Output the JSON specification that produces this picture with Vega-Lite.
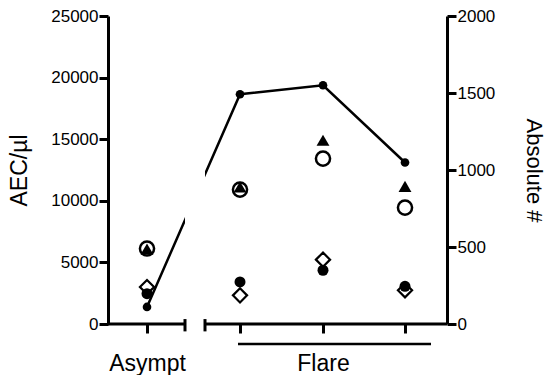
{
  "$schema": "https://vega.github.io/schema/vega-lite/v6.json",
  "width": 339,
  "height": 308,
  "autosize": "none",
  "padding": {"left": 108, "top": 16, "right": 102, "bottom": 51},
  "config": {
    "view": {"stroke": null},
    "font": "Liberation Sans",
    "axis": {"grid": false, "domainColor": "black", "tickColor": "black", "labelColor": "black", "titleColor": "black", "titleFontWeight": "normal"}
  },
  "datasets": {
    "aec": [
      {"group": "Asympt", "pos": 39, "aec": 1384},
      {"group": "Flare", "pos": 132, "aec": 18650},
      {"group": "Flare", "pos": 215, "aec": 19380},
      {"group": "Flare", "pos": 297, "aec": 13110}
    ],
    "cells": [
      {"pos": 39, "series": "circle", "abs": 490},
      {"pos": 132, "series": "circle", "abs": 873},
      {"pos": 215, "series": "circle", "abs": 1074},
      {"pos": 297, "series": "circle", "abs": 756},
      {"pos": 39, "series": "triangle", "abs": 487},
      {"pos": 132, "series": "triangle", "abs": 890},
      {"pos": 215, "series": "triangle", "abs": 1193},
      {"pos": 297, "series": "triangle", "abs": 894},
      {"pos": 39, "series": "diamond", "abs": 240},
      {"pos": 132, "series": "diamond", "abs": 186},
      {"pos": 215, "series": "diamond", "abs": 418},
      {"pos": 297, "series": "diamond", "abs": 219},
      {"pos": 39, "series": "dot", "abs": 197},
      {"pos": 132, "series": "dot", "abs": 273},
      {"pos": 215, "series": "dot", "abs": 349},
      {"pos": 297, "series": "dot", "abs": 245}
    ],
    "segments": [
      {"from": 0, "to": 77},
      {"from": 97, "to": 339}
    ],
    "caps": [{"at": 77}, {"at": 97}],
    "gap": [{"from": 77, "to": 97}],
    "underline": [{"from": 130, "to": 323}]
  },
  "layer": [
    {
      "layer": [
        {
          "data": {"name": "aec"},
          "mark": {"type": "line", "color": "black", "strokeWidth": 2.5},
          "encoding": {
            "x": {"field": "pos", "type": "quantitative", "scale": {"domain": [0, 339], "nice": false, "zero": false},
              "axis": {"values": [39, 132, 215, 297], "domain": false, "tickSize": 9, "tickWidth": 3,
                "labelExpr": "datum.value==39?'Asympt':datum.value==215?'Flare':''",
                "labelFontSize": 23, "labelPadding": 19, "title": null, "labelFlush": false, "labelOverlap": false}},
            "y": {"field": "aec", "type": "quantitative", "scale": {"domain": [0, 25000], "nice": false},
              "axis": {"title": "AEC/µl", "values": [0, 5000, 10000, 15000, 20000, 25000], "format": "d",
                "tickSize": 9, "tickWidth": 3, "domainWidth": 3, "labelFontSize": 17, "labelPadding": 1,
                "titleFontSize": 23, "titlePadding": 19}}
          }
        },
        {
          "data": {"name": "aec"},
          "mark": {"type": "point", "shape": "circle", "filled": true, "color": "black", "opacity": 1, "size": 75},
          "encoding": {
            "x": {"field": "pos", "type": "quantitative", "scale": {"domain": [0, 339], "nice": false, "zero": false}},
            "y": {"field": "aec", "type": "quantitative", "scale": {"domain": [0, 25000], "nice": false}}
          }
        },
        {
          "data": {"name": "gap"},
          "mark": {"type": "rect", "color": "white"},
          "encoding": {
            "x": {"field": "from", "type": "quantitative", "scale": {"domain": [0, 339], "nice": false, "zero": false}},
            "x2": {"field": "to"},
            "y": {"datum": 0, "type": "quantitative", "scale": {"domain": [0, 25000], "nice": false}},
            "y2": {"datum": 25000}
          }
        },
        {
          "data": {"name": "segments"},
          "mark": {"type": "rule", "color": "black", "strokeWidth": 3},
          "encoding": {
            "x": {"field": "from", "type": "quantitative", "scale": {"domain": [0, 339], "nice": false, "zero": false}},
            "x2": {"field": "to"},
            "y": {"datum": 0, "type": "quantitative", "scale": {"domain": [0, 25000], "nice": false}}
          }
        },
        {
          "data": {"name": "caps"},
          "mark": {"type": "rule", "color": "black", "strokeWidth": 3},
          "encoding": {
            "x": {"field": "at", "type": "quantitative", "scale": {"domain": [0, 339], "nice": false, "zero": false}},
            "y": {"datum": 400, "type": "quantitative", "scale": {"domain": [0, 25000], "nice": false}},
            "y2": {"datum": -600}
          }
        },
        {
          "data": {"name": "underline"},
          "mark": {"type": "rule", "color": "black", "strokeWidth": 2.5},
          "encoding": {
            "x": {"field": "from", "type": "quantitative", "scale": {"domain": [0, 339], "nice": false, "zero": false}},
            "x2": {"field": "to"},
            "y": {"datum": -1620, "type": "quantitative", "scale": {"domain": [0, 25000], "nice": false}}
          }
        }
      ]
    },
    {
      "layer": [
        {
          "data": {"name": "cells"},
          "transform": [{"filter": "datum.series=='circle'"}],
          "mark": {"type": "point", "shape": "circle", "filled": false, "fill": "white", "stroke": "black", "strokeWidth": 2.5, "opacity": 1, "size": 200},
          "encoding": {
            "x": {"field": "pos", "type": "quantitative", "scale": {"domain": [0, 339], "nice": false, "zero": false}},
            "y": {"field": "abs", "type": "quantitative", "scale": {"domain": [0, 2000], "nice": false},
              "axis": {"orient": "right", "title": "Absolute #", "values": [0, 500, 1000, 1500, 2000], "format": "d",
                "tickSize": 9, "tickWidth": 3, "domainWidth": 3, "labelFontSize": 17, "labelPadding": 1,
                "titleFontSize": 22, "titlePadding": 27}}
          }
        },
        {
          "data": {"name": "cells"},
          "transform": [{"filter": "datum.series=='diamond'"}],
          "mark": {"type": "point", "shape": "diamond", "filled": false, "fill": "white", "stroke": "black", "strokeWidth": 2.2, "opacity": 1, "size": 200},
          "encoding": {
            "x": {"field": "pos", "type": "quantitative", "scale": {"domain": [0, 339], "nice": false, "zero": false}},
            "y": {"field": "abs", "type": "quantitative", "scale": {"domain": [0, 2000], "nice": false}}
          }
        },
        {
          "data": {"name": "cells"},
          "transform": [{"filter": "datum.series=='dot'"}],
          "mark": {"type": "point", "shape": "circle", "filled": true, "color": "black", "opacity": 1, "size": 121},
          "encoding": {
            "x": {"field": "pos", "type": "quantitative", "scale": {"domain": [0, 339], "nice": false, "zero": false}},
            "y": {"field": "abs", "type": "quantitative", "scale": {"domain": [0, 2000], "nice": false}}
          }
        },
        {
          "data": {"name": "cells"},
          "transform": [{"filter": "datum.series=='triangle'"}],
          "mark": {"type": "point", "shape": "triangle-up", "filled": true, "color": "black", "opacity": 1, "size": 165},
          "encoding": {
            "x": {"field": "pos", "type": "quantitative", "scale": {"domain": [0, 339], "nice": false, "zero": false}},
            "y": {"field": "abs", "type": "quantitative", "scale": {"domain": [0, 2000], "nice": false}}
          }
        }
      ]
    }
  ],
  "resolve": {"scale": {"y": "independent"}}
}
